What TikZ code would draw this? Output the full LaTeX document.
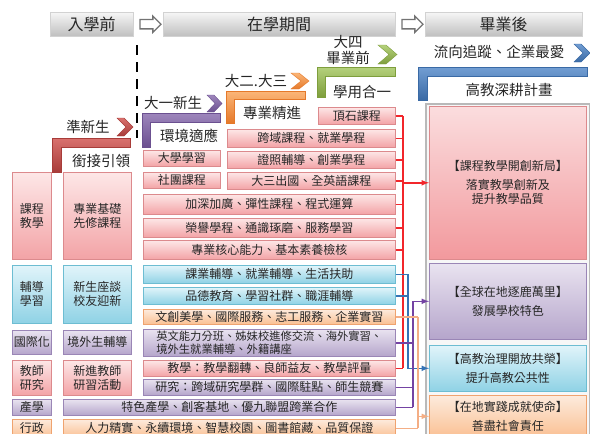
\documentclass[tikz,border=0pt]{standalone}
\usepackage{fontspec}
\setmainfont{Noto Sans CJK TC}
\usepackage{xcolor}
\usetikzlibrary{shapes.arrows,calc}

\definecolor{hdtop}{HTML}{F6F6F6}
\definecolor{hdbot}{HTML}{BFBFBF}
\definecolor{txt}{HTML}{262626}
\definecolor{rtop}{HTML}{FDE7E7}
\definecolor{rbot}{HTML}{F3A3A6}
\definecolor{rdraw}{HTML}{DC8A8D}
\definecolor{ctop}{HTML}{E1F4FA}
\definecolor{cbot}{HTML}{8FD2E5}
\definecolor{cdraw}{HTML}{6DBDD2}
\definecolor{ptop}{HTML}{E9E3F0}
\definecolor{pbot}{HTML}{B5A5CB}
\definecolor{pdraw}{HTML}{9A86B6}
\definecolor{otop}{HTML}{FDEBDD}
\definecolor{obot}{HTML}{FAC093}
\definecolor{odraw}{HTML}{EFA36F}
\definecolor{gtop}{HTML}{FBDDDE}
\definecolor{gbot}{HTML}{F2999D}
\definecolor{redln}{HTML}{F2262B}
\definecolor{blueln}{HTML}{3573B5}
\definecolor{purpln}{HTML}{7443A3}
\definecolor{orln}{HTML}{F4AE85}
\definecolor{rbtop}{HTML}{D9716E}
\definecolor{rbbot}{HTML}{A83C39}
\definecolor{pbtop}{HTML}{9E86BC}
\definecolor{pbbot}{HTML}{6B5090}
\definecolor{obtop}{HTML}{FBB678}
\definecolor{obbot}{HTML}{E5792A}
\definecolor{gbtop}{HTML}{B5D17C}
\definecolor{gbbot}{HTML}{7E9E3C}
\definecolor{bbtop}{HTML}{729ED3}
\definecolor{bbbot}{HTML}{3A6AA5}

\newcommand{\redbar}{[top color=rbtop, bottom color=rbbot, draw=rbbot, line width=0.4]}
\newcommand{\purpbar}{[top color=pbtop, bottom color=pbbot, draw=pbbot, line width=0.4]}
\newcommand{\orbar}{[top color=obtop, bottom color=obbot, draw=obbot, line width=0.4]}
\newcommand{\greenbar}{[top color=gbtop, bottom color=gbbot, draw=gbbot, line width=0.4]}
\newcommand{\bluebar}{[top color=bbtop, bottom color=bbbot, draw=bbbot, line width=0.4]}

\tikzset{
  box/.style={anchor=north west, inner sep=0pt, align=center, text=txt, line width=0.6,
    font=\fontsize{12}{14}\selectfont},
  redbox/.style={box, draw=rdraw, top color=rtop, bottom color=rbot},
  cyanbox/.style={box, draw=cdraw, top color=ctop, bottom color=cbot},
  purpbox/.style={box, draw=pdraw, top color=ptop, bottom color=pbot},
  orbox/.style={box, draw=odraw, top color=otop, bottom color=obot},
  hdbox/.style={anchor=north west, minimum height=24, inner sep=0pt, text=txt,
    top color=hdtop, bottom color=hdbot, draw=gray!35, line width=0.4,
    font=\fontsize{16}{18}\selectfont},
  hollowarr/.style={single arrow, draw=black!55, fill=white, line width=1.3,
    minimum height=21, inner xsep=0pt, inner ysep=4pt, single arrow head extend=3.5pt},
  stagelbl/.style={inner sep=0pt, align=center, text=txt, font=\fontsize{14.5}{16}\selectfont},
  link/.style={line width=1.5},
}

\begin{document}
\begin{tikzpicture}[x=1pt,y=-1pt]
\useasboundingbox (0,0) rectangle (590,434);

% headers
\node[hdbox, minimum width=83] (hdpre) at (50,12) {入學前};
\node[hdbox, minimum width=232] (hdin) at (163,12) {在學期間};
\node[hdbox, minimum width=157] (hdpost) at (425,12) {畢業後};
\node[hollowarr] (arone) at ($(hdpre.east)!.5!(hdin.west)$) {};
\node[hollowarr] (artwo) at ($(hdin.east)!.5!(hdpost.west)$) {};

\draw [line width=1.6, dash pattern=on 10pt off 7pt] (137,45) -- (137,138);

% stages
\node[stagelbl] (lbpre) at (88,127) {準新生};
\draw \redbar (117,118) -- (124,118) -- (133,127) -- (124,136) -- (117,136) -- (126,127) -- cycle;
\draw \redbar (52,138) -- (130,138) -- (130,147) -- (61,147) -- (61,172) -- (52,172) -- cycle;
\node[stagelbl] (lbbridge) at (101,161) {銜接引領};

\node[stagelbl] (lbfirst) at (173,103) {大一新生};
\draw \purpbar (207,95) -- (214,95) -- (222,103.5) -- (214,112) -- (207,112) -- (215,103.5) -- cycle;
\draw \purpbar (142,113) -- (220,113) -- (220,122) -- (150,122) -- (150,147) -- (142,147) -- cycle;
\node[stagelbl] (lbadapt) at (189,136) {環境適應};

\node[stagelbl] (lbmid) at (256,81) {大二.大三};
\draw \orbar (291,73) -- (299,73) -- (309,81) -- (299,89) -- (291,89) -- (301,81) -- cycle;
\draw \orbar (226,91) -- (305,91) -- (305,99) -- (234,99) -- (234,123) -- (226,123) -- cycle;
\node[stagelbl] (lbpro) at (272,113) {專業精進};

\node[stagelbl] (lbfourth) at (348,50) {大四\\畢業前};
\draw \greenbar (378,45) -- (386,45) -- (397,54.5) -- (386,64) -- (378,64) -- (389,54.5) -- cycle;
\draw \greenbar (317,67) -- (395,67) -- (395,76) -- (325,76) -- (325,97) -- (317,97) -- cycle;
\node[stagelbl] (lbapply) at (362,92) {學用合一};

\node[stagelbl] (lbtrack) at (499,52) {流向追蹤、企業最愛};
\draw \bluebar (574,44) -- (581,44) -- (590,53) -- (581,62) -- (574,62) -- (583,53) -- cycle;
\draw \bluebar (418,67) -- (587,67) -- (587,76) -- (427,76) -- (427,100) -- (418,100) -- cycle;
\node[stagelbl] (lbplan) at (509,90) {高教深耕計畫};

% left columns
\node[redbox, minimum width=39, minimum height=87] (acourse) at (12,172) {課程\\教學};
\node[cyanbox, minimum width=39, minimum height=58] (aguide) at (12,265) {輔導\\學習};
\node[purpbox, minimum width=39, minimum height=24] (aintl) at (12,330) {國際化};
\node[redbox, minimum width=39, minimum height=35] (ateach) at (12,360) {教師\\研究};
\node[purpbox, minimum width=39, minimum height=16] (aind) at (12,399) {產學};
\node[orbox, minimum width=39, minimum height=18] (aadmin) at (12,419) {行政};

\node[redbox, minimum width=68, minimum height=87] (bcourse) at (63,172) {專業基礎\\先修課程};
\node[cyanbox, minimum width=68, minimum height=58] (bguide) at (63,265) {新生座談\\校友迎新};
\node[purpbox, minimum width=68, minimum height=24] (bintl) at (63,330) {境外生輔導};
\node[redbox, minimum width=68, minimum height=35] (bteach) at (63,360) {新進教師\\研習活動};
\node[purpbox, minimum width=332, minimum height=16] (bind) at (63,399) {特色產學、創客基地、優九聯盟跨業合作};
\node[orbox, minimum width=332, minimum height=18] (badmin) at (63,419) {人力精實、永續環境、智慧校園、圖書館藏、品質保證};

% middle column
\node[redbox, minimum width=77, minimum height=16] (study) at (143,150) {大學學習};
\node[redbox, minimum width=77, minimum height=16] (club) at (143,172) {社團課程};
\node[redbox, minimum width=77, minimum height=17] (capstone) at (318,107) {頂石課程};
\node[redbox, minimum width=168, minimum height=18] (cross) at (227,129) {跨域課程、就業學程};
\node[redbox, minimum width=168, minimum height=17] (license) at (227,151) {證照輔導、創業學程};
\node[redbox, minimum width=168, minimum height=17] (abroad) at (227,172) {大三出國、全英語課程};
\node[redbox, minimum width=252, minimum height=20] (deepen) at (143,194) {加深加廣、彈性課程、程式運算};
\node[redbox, minimum width=252, minimum height=19] (honor) at (143,218) {榮譽學程、通識琢磨、服務學習};
\node[redbox, minimum width=252, minimum height=19] (core) at (143,240) {專業核心能力、基本素養檢核};
\node[cyanbox, minimum width=252, minimum height=18] (tutor) at (143,265) {課業輔導、就業輔導、生活扶助};
\node[cyanbox, minimum width=252, minimum height=17] (moral) at (143,287) {品德教育、學習社群、職涯輔導};
\node[orbox, minimum width=252, minimum height=15] (arts) at (143,309) {文創美學、國際服務、志工服務、企業實習};
\node[purpbox, minimum width=252, minimum height=27, align=left,
  font=\fontsize{11.3}{12.5}\selectfont] (english) at (143,329) {英文能力分班、姊妹校進修交流、海外實習、\\境外生就業輔導、外籍講座};
\node[redbox, minimum width=252, minimum height=16] (teaching) at (143,360) {教學：教學翻轉、良師益友、教學評量};
\node[purpbox, minimum width=252, minimum height=16] (research) at (143,379) {研究：跨域研究學群、國際駐點、師生競賽};

% goals
\node[anchor=north west, draw=gray!55, fill=gray!6, line width=2.2, minimum width=164, minimum height=340] (goalfrm) at (425,103) {};
\node[redbox, minimum width=157, minimum height=153, top color=gtop, bottom color=gbot] (goalcourse) at (429,106) {【課程教學開創新局】\\[5pt]落實教學創新及\\提升教學品質};
\node[purpbox, minimum width=157, minimum height=76] (goalglobal) at (429,263) {【全球在地逐鹿萬里】\\[5pt]發展學校特色};
\node[cyanbox, minimum width=157, minimum height=46] (goalgov) at (429,345) {【高教治理開放共榮】\\[5pt]提升高教公共性};
\node[orbox, minimum width=157, minimum height=42] (goallocal) at (429,395) {【在地實踐成就使命】\\[5pt]善盡社會責任};

% links
\coordinate (redbus) at (403,0);
\coordinate (bluebus) at (408,0);
\coordinate (purpbus) at (413,0);
\coordinate (orbus) at (418,0);

\foreach \b in {capstone,cross,license,abroad,deepen,honor,core,teaching}
  \draw[link, redln] (\b.east) -- (\b.east -| redbus);
\draw[link, redln] (capstone.east -| redbus) -- (teaching.east -| redbus);
\draw[link, redln, -latex] (redbus |- goalcourse.west) -- (goalcourse.west);

\foreach \b in {tutor,moral}
  \draw[link, blueln] (\b.east) -- (\b.east -| bluebus);
\draw[link, blueln, -latex] (tutor.east -| bluebus) |- (goalgov.west);

\foreach \b in {english,research,bind}
  \draw[link, purpln] (\b.east) -- (\b.east -| purpbus);
\draw[link, purpln, -latex] (bind.east -| purpbus) |- (goalglobal.west);

\foreach \b in {arts,badmin}
  \draw[link, orln] (\b.east) -- (\b.east -| orbus);
\draw[link, orln] (arts.east -| orbus) -- (badmin.east -| orbus);
\draw[link, orln, -latex] (orbus |- goallocal.west) -- (goallocal.west);
\end{tikzpicture}
\end{document}
